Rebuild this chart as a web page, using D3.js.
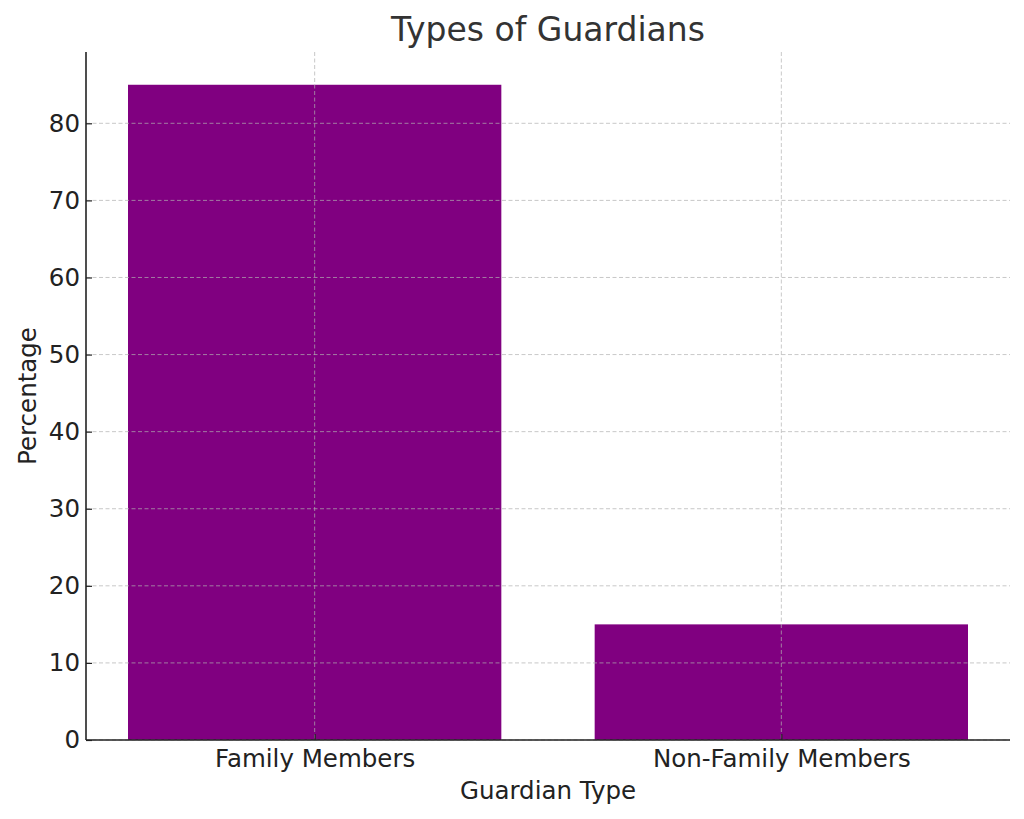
<!DOCTYPE html>
<html>
<head>
<meta charset="utf-8">
<script src="https://cdn.jsdelivr.net/npm/d3@7"></script>
<style>
  body { margin: 0; background: #fff; }
  svg { display: block; font-family: "DejaVu Sans", sans-serif; }
</style>
</head>
<body>
<svg width="1024" height="819"></svg>
<script>
// Data
const categories = ['Family Members', 'Non-Family Members'];
const values = [85, 15];
const yTicks = [0, 10, 20, 30, 40, 50, 60, 70, 80];

const svg = d3.select('svg');
const margin = { top: 52, right: 14, bottom: 79, left: 86 };
const width = 1024 - margin.left - margin.right;
const height = 819 - margin.top - margin.bottom;

const g = svg.append('g')
  .attr('transform', `translate(${margin.left},${margin.top})`);

// matplotlib-like linear x scale with 5% margins around the bars
const xIdx = d3.scaleLinear().domain([-0.49, 1.49]).range([0, width]);
const y = d3.scaleLinear().domain([0, 89.25]).range([height, 0]);

// Bars
g.selectAll('rect.bar')
  .data(values)
  .join('rect')
  .attr('class', 'bar')
  .attr('x', (d, i) => xIdx(i - 0.4))
  .attr('width', xIdx(0.4) - xIdx(-0.4))
  .attr('y', d => y(d))
  .attr('height', d => y(0) - y(d))
  .attr('fill', '#800080');

// Grid (drawn above bars)
const grid = g.append('g')
  .attr('stroke', '#b0b0b0')
  .attr('stroke-opacity', 0.7)
  .attr('stroke-dasharray', '4,2.5')
  .attr('stroke-width', 1);

grid.selectAll('line.hy')
  .data(yTicks)
  .join('line')
  .attr('x1', 0).attr('x2', width)
  .attr('y1', d => y(d)).attr('y2', d => y(d));

grid.selectAll('line.vx')
  .data(categories)
  .join('line')
  .attr('x1', (d, i) => xIdx(i)).attr('x2', (d, i) => xIdx(i))
  .attr('y1', 0).attr('y2', height);

// Axes
const yAxis = d3.axisLeft(y).tickValues(yTicks).tickSize(-6).tickPadding(6);
const xAxis = d3.axisBottom(xIdx).tickValues(categories.map((d, i) => i))
  .tickFormat(i => categories[i]).tickSize(-6).tickPadding(10);

const ya = g.append('g').call(yAxis);
const xa = g.append('g').attr('transform', `translate(0,${height})`).call(xAxis);

[ya, xa].forEach(a => {
  a.select('.domain').attr('stroke', '#222').attr('stroke-width', 1.6);
  a.selectAll('.tick line').attr('stroke', '#222').attr('stroke-width', 1.2);
  a.selectAll('.tick text')
    .attr('fill', '#222')
    .style('font-size', '24.5px')
    .style('font-family', '"DejaVu Sans", sans-serif');
});
// keep only left and bottom spines; trim the outer ticks on the domain
ya.select('.domain').attr('d', `M0,${height}V0`);
xa.select('.domain').attr('d', `M0,0H${width}`);

// Title and axis labels
svg.append('text')
  .attr('x', margin.left + width / 2)
  .attr('y', 41)
  .attr('text-anchor', 'middle')
  .attr('fill', '#333')
  .style('font-size', '33px')
  .text('Types of Guardians');

svg.append('text')
  .attr('x', margin.left + width / 2)
  .attr('y', 799)
  .attr('text-anchor', 'middle')
  .attr('fill', '#222')
  .style('font-size', '24.5px')
  .text('Guardian Type');

svg.append('text')
  .attr('transform', `translate(36,${margin.top + height / 2}) rotate(-90)`)
  .attr('text-anchor', 'middle')
  .attr('fill', '#222')
  .style('font-size', '24.5px')
  .text('Percentage');
</script>
</body>
</html>
